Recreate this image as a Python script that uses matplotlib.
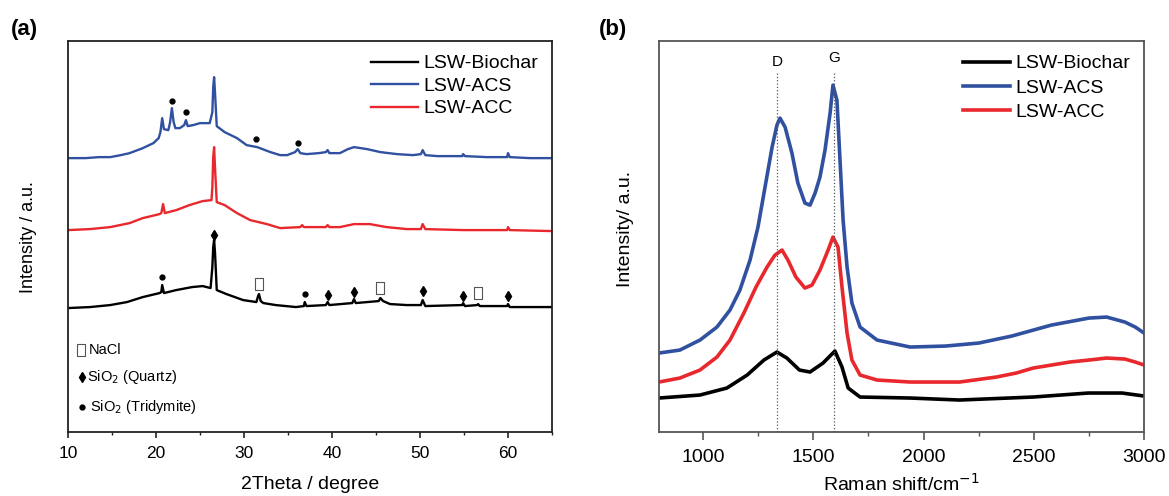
import numpy as np
import matplotlib.pyplot as plt
from matplotlib.path import Path

plt.rcParams['font.family'] = ['Liberation Sans', 'DejaVu Sans']

# ---- (a) XRD, values (a.u.) ----
acs_2t = [10, 12, 13.5, 14.8, 16, 17, 18.5, 19.7, 20.3, 20.5, 20.7, 20.9, 21.4, 21.6, 21.8, 22.0,
          22.2, 22.7, 23.2, 23.4, 23.6, 24.2, 25.0, 26.1, 26.4, 26.5, 26.6, 26.7, 26.9, 27.8,
          29.2, 30.3, 31.5, 33.0, 34.1, 34.9, 35.8, 36.1, 36.4, 37.1, 38.5, 39.3, 39.5, 39.7,
          40.9, 41.8, 42.5, 44.0, 45.5, 47.4, 49.2, 50.1, 50.3, 50.6, 52, 54.8, 54.9, 55.1,
          57.6, 59.9, 60.0, 60.2, 62.5, 65]
acs_i = [274, 274, 275, 275, 277, 279, 284, 289, 294, 300, 314, 303, 302, 310, 324, 310,
         304, 304, 307, 312, 306, 307, 309, 309, 320, 345, 355, 340, 306, 300,
         294, 287, 285, 280, 277, 277, 280, 283, 279, 278, 279, 280, 282, 279,
         279, 283, 285, 283, 280, 278, 277, 278, 282, 277, 276, 276, 278, 276,
         275, 275, 279, 275, 274, 274]

acc_2t = [10, 12.5, 14.8, 17.0, 18.5, 20.4, 20.6, 20.8, 21.0, 22.3, 23.8, 25.3, 26.3, 26.4, 26.5,
          26.6, 26.7, 26.9, 27.8, 29.2, 30.7, 32.6, 34.1, 36.4, 36.6, 36.8, 39.3, 39.5, 39.7,
          40.9, 42.5, 44.3, 46.2, 48.5, 50.1, 50.3, 50.6, 54.9, 59.9, 60.0, 60.2, 65]
acc_i = [202, 203, 205, 209, 214, 218, 219, 228, 219, 222, 227, 231, 232, 245, 275,
         285, 265, 230, 227, 219, 212, 208, 204, 205, 207, 205, 205, 207, 205,
         205, 208, 208, 205, 203, 203, 208, 203, 202, 202, 205, 202, 201]

bio_2t = [10, 12.5, 14.8, 16.7, 18.5, 20.4, 20.6, 20.7, 20.9, 22.3, 24.1, 25.3, 26.2, 26.4, 26.5,
          26.6, 26.7, 26.9, 28.0, 29.9, 31.4, 31.6, 31.7, 31.9, 32.2, 33.6, 35.9, 36.8, 36.9,
          37.1, 39.3, 39.5, 39.7, 42.3, 42.5, 42.7, 44.0, 45.3, 45.5, 45.8, 46.6, 48.5, 50.1,
          50.3, 50.6, 54.8, 54.9, 55.1, 56.5, 56.6, 56.8, 59.9, 60.0, 60.2, 65]
bio_i = [124, 125, 127, 130, 135, 139, 140, 147, 139, 142, 145, 146, 144, 165, 185,
         192, 180, 142, 138, 132, 130, 136, 138, 131, 129, 127, 125, 126, 130,
         126, 127, 130, 127, 129, 133, 129, 130, 131, 134, 131, 128, 127, 127,
         132, 126, 127, 129, 126, 127, 128, 126, 126, 128, 125, 125]

# phase markers (2theta, height)
tridymite = [(21.8, 331), (23.4, 320), (31.4, 293), (36.1, 289), (20.7, 155), (36.9, 138)]
quartz = [(26.6, 197), (39.5, 137), (42.5, 140), (50.3, 141), (54.9, 136), (60.0, 136)]
nacl = [(31.7, 148), (45.5, 144), (56.6, 139)]

# ---- (b) Raman ----
acs_w = [800, 895, 986, 1063, 1122, 1167, 1213, 1249, 1281, 1313, 1335, 1349, 1372, 1403, 1430,
         1462, 1485, 1508, 1530, 1553, 1576, 1589, 1607, 1621, 1635, 1653, 1675, 1712, 1789,
         1939, 2100, 2250, 2400, 2580, 2750, 2830, 2913, 2960, 3000]
acs_r = [79, 82, 92, 105, 122, 142, 172, 205, 245, 285, 307, 314, 305, 279, 249,
         229, 227, 239, 255, 282, 319, 347, 332, 272, 212, 165, 129, 105, 92,
         85, 86, 89, 96, 107, 114, 115, 110, 105, 99]

acc_w = [800, 895, 986, 1063, 1122, 1185, 1240, 1290, 1326, 1358, 1385, 1421, 1462, 1494, 1530,
         1567, 1589, 1612, 1630, 1653, 1675, 1712, 1789, 1939, 2163, 2330, 2420, 2497, 2580,
         2663, 2750, 2830, 2913, 2960, 3000]
acc_r = [50, 54, 62, 75, 92, 119, 145, 165, 177, 182, 172, 155, 144, 147, 162,
         182, 195, 185, 145, 99, 72, 57, 52, 50, 50, 55, 59, 64, 67,
         70, 72, 74, 73, 70, 67]

bio_w = [800, 986, 1108, 1200, 1276, 1335, 1380, 1437, 1485, 1544, 1598, 1630, 1658, 1712,
         1939, 2163, 2497, 2747, 2900, 3000]
bio_r = [34, 37, 44, 57, 72, 80, 74, 62, 60, 69, 81, 65, 44, 35, 34, 32, 35, 39, 39, 36]

band_pos = [1335, 1594]
band_names = ['D', 'G']

blue = '#3050a0'
red = '#e8282c'

box = Path([(-0.32, -0.5), (0.32, -0.5), (0.32, 0.5), (-0.32, 0.5), (-0.32, -0.5)],
           [Path.MOVETO, Path.LINETO, Path.LINETO, Path.LINETO, Path.CLOSEPOLY])

fig = plt.figure(figsize=(11.69, 4.96), dpi=100)
ax1 = fig.add_axes([0.0582, 0.129, 0.414, 0.788])
ax2 = fig.add_axes([0.5637, 0.129, 0.415, 0.788])

ax1.plot(bio_2t, bio_i, color='black', lw=1.7, label='LSW-Biochar')
ax1.plot(acs_2t, acs_i, color=blue, lw=1.7, label='LSW-ACS')
ax1.plot(acc_2t, acc_i, color=red, lw=1.7, label='LSW-ACC')

ax1.plot(*zip(*tridymite), ls='none', marker='o', ms=3.5, color='black')
ax1.plot(*zip(*quartz), ls='none', marker='d', ms=5.5, color='black')
ax1.plot(*zip(*nacl), ls='none', marker=box, ms=8, mfc='white', mec='#555555', mew=0.8)

# phase key, lower left
ax1.plot([0.027], [0.21], transform=ax1.transAxes, marker=box, ms=8, mfc='white',
         mec='#555555', mew=0.8, ls='none')
ax1.plot([0.029], [0.141], transform=ax1.transAxes, marker='d', ms=5.5, color='black', ls='none')
ax1.plot([0.029], [0.064], transform=ax1.transAxes, marker='o', ms=3.5, color='black', ls='none')
ax1.text(0.043, 0.21, 'NaCl', transform=ax1.transAxes, fontsize=10.5, va='center')
ax1.text(0.039, 0.141, 'SiO$_2$ (Quartz)', transform=ax1.transAxes, fontsize=10.5, va='center')
ax1.text(0.045, 0.064, 'SiO$_2$ (Tridymite)', transform=ax1.transAxes, fontsize=10.5, va='center')

ax1.set_xlim(10, 65)
ax1.set_ylim(0, 391)
ax1.set_xticks([10, 20, 30, 40, 50, 60])
ax1.set_xticks([15, 25, 35, 45, 55, 65], minor=True)
ax1.set_xlabel('2Theta / degree', fontsize=14, labelpad=11)
ax1.set_ylabel('Intensity / a.u.', fontsize=13)
ax1.yaxis.set_label_coords(-0.064, 0.5)
ax1.legend(loc='upper right', frameon=False, fontsize=14, handlelength=2.4,
           handletextpad=0.3, labelspacing=0.25, borderaxespad=0.3)

ax2.plot(bio_w, bio_r, color='black', lw=2.6, label='LSW-Biochar')
ax2.plot(acs_w, acs_r, color=blue, lw=2.6, label='LSW-ACS')
ax2.plot(acc_w, acc_r, color=red, lw=2.6, label='LSW-ACC')
for pos, name in zip(band_pos, band_names):
    ax2.plot([pos, pos], [0, 359], color='#555555', ls=':', lw=0.9)
ax2.text(band_pos[0], 370, band_names[0], ha='center', va='center', fontsize=11)
ax2.text(band_pos[1], 374, band_names[1], ha='center', va='center', fontsize=11)

ax2.set_xlim(800, 3000)
ax2.set_ylim(0, 391)
ax2.set_xticks([1000, 1500, 2000, 2500, 3000])
ax2.set_xticks([1250, 1750, 2250, 2750], minor=True)
ax2.set_xlabel('Raman shift/cm$^{-1}$', fontsize=14, labelpad=5)
ax2.set_ylabel('Intensity/ a.u.', fontsize=14)
ax2.yaxis.set_label_coords(-0.052, 0.52)
ax2.legend(loc='upper right', frameon=False, fontsize=14, handlelength=2.4,
           handletextpad=0.3, labelspacing=0.35, borderaxespad=0.3)

for ax, col, fs, tl, tp in [(ax1, '#222222', 12.5, 4.5, 5.5), (ax2, '#555555', 14, 6, 6)]:
    ax.set_yticks([])
    for s in ax.spines.values():
        s.set_color(col)
        s.set_linewidth(1.3)
    ax.tick_params(axis='x', which='major', direction='out', length=tl, width=1.2,
                   labelsize=fs, pad=tp, color=col)
    ax.tick_params(axis='x', which='minor', direction='out', length=tl / 2, width=1.0, color=col)

fig.text(0.009, 0.94, '(a)', fontsize=16, fontweight='bold', va='center')
fig.text(0.512, 0.94, '(b)', fontsize=16, fontweight='bold', va='center')

fig.savefig('out.png', dpi=100)
